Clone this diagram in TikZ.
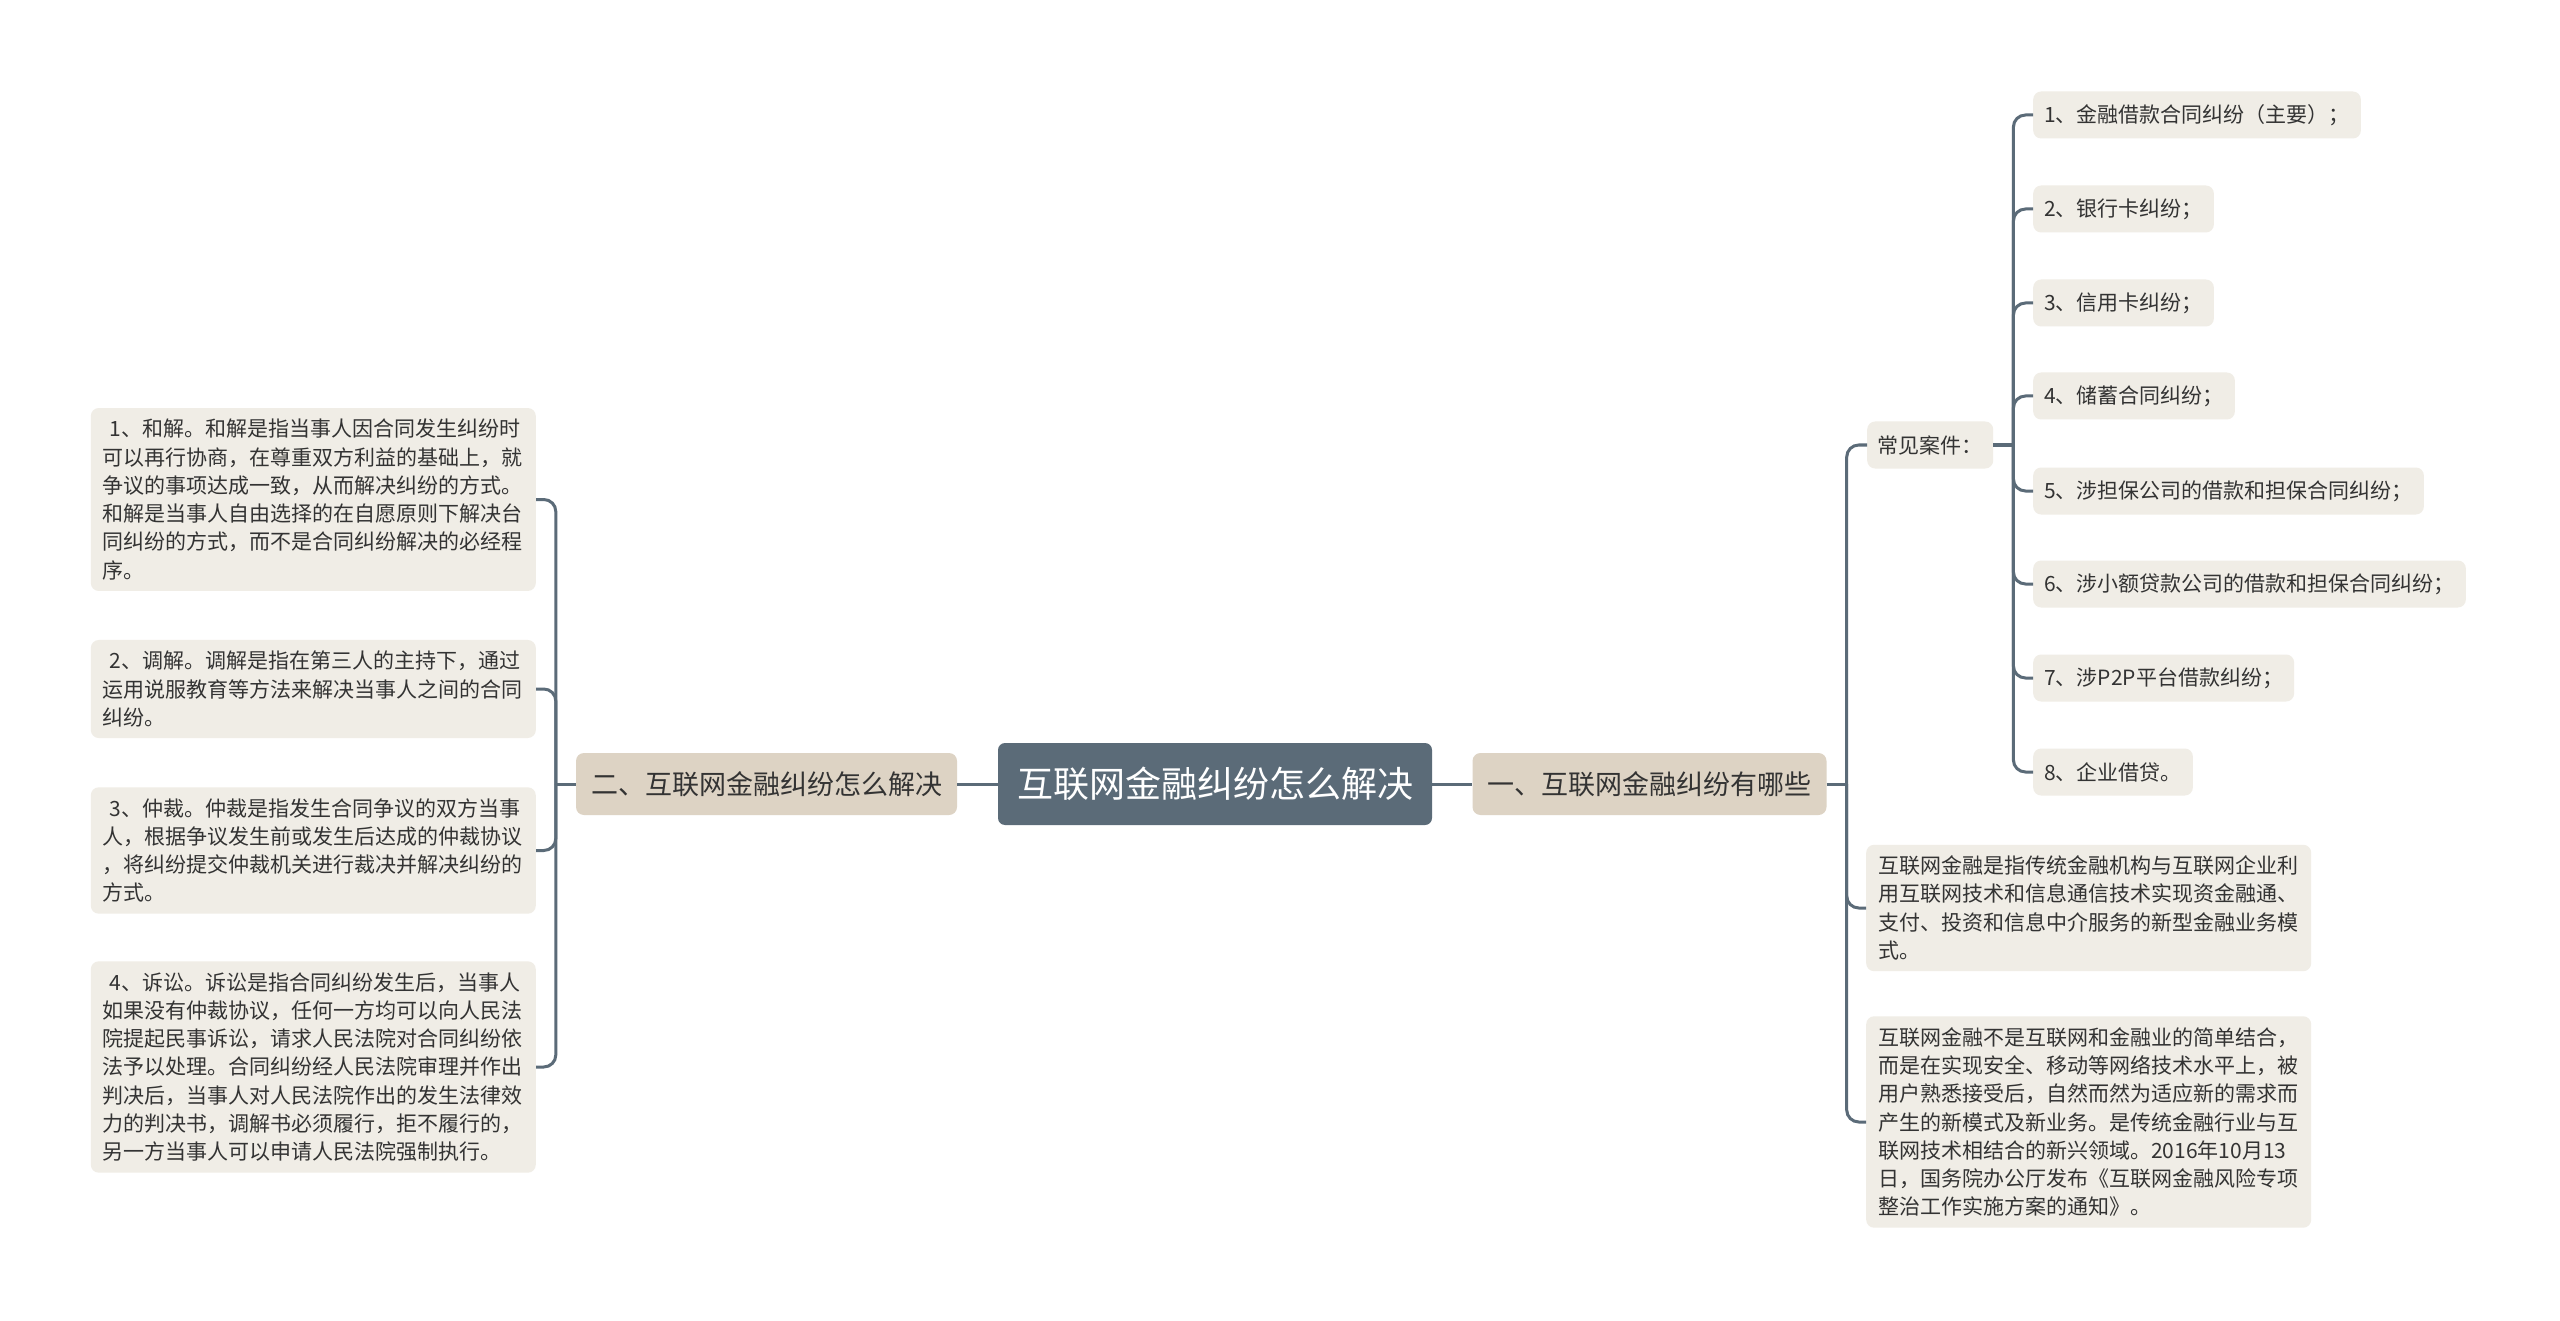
\documentclass[tikz,border=0pt]{standalone}
\usepackage{fontspec}
\setmainfont{Noto Sans CJK SC}
\usepackage{tikz}

\definecolor{slate}{HTML}{5B6B78}
\definecolor{tan}{HTML}{DDD3C4}
\definecolor{cream}{HTML}{F0EDE6}
\definecolor{ink}{HTML}{333333}

\begin{document}
\begin{tikzpicture}[x=1pt, y=-1pt,
    rootbox/.style={fill=slate, text=white, rounded corners=7pt, inner xsep=19pt,
      minimum height=82pt, font=\fontsize{36}{40}\selectfont},
    branchbox/.style={fill=tan, text=ink, rounded corners=8pt, inner xsep=15pt,
      minimum height=62pt, font=\fontsize{27}{32}\selectfont},
    leafbox/.style={fill=cream, text=ink, rounded corners=8pt, inner xsep=11pt,
      minimum height=47pt, font=\fontsize{21}{28.3}\selectfont},
    notebox/.style={fill=cream, text=ink, rounded corners=8pt, inner xsep=12pt,
      inner ysep=11pt, text width=421pt, align=left, font=\fontsize{21}{28.3}\selectfont},
    link/.style={draw=slate, line width=3pt, rounded corners=12pt}]
    \fill[white] (0,0) rectangle (2560,1321);
    \useasboundingbox (0,0) rectangle (2560,1321);

    % middle
    \node[rootbox] (root) at (1215,784) {互联网金融纠纷怎么解决};
    \node[branchbox] (ways) at (766.5,784) {二、互联网金融纠纷怎么解决};
    \node[branchbox] (kinds) at (1649.5,784) {一、互联网金融纠纷有哪些};
    \draw[link] (root.west) -- (ways.east);
    \draw[link] (root.east) -- (kinds.west);

    % left side
    \node[notebox, anchor=east] (heji) at (536,499.5) {~1、和解。和解是指当事人因合同发生纠纷时\\
      可以再行协商，在尊重双方利益的基础上，就\\
      争议的事项达成一致，从而解决纠纷的方式。\\
      和解是当事人自由选择的在自愿原则下解决台\\
      同纠纷的方式，而不是合同纠纷解决的必经程\\
      序。};
    \node[notebox, anchor=east] (tiaojie) at (536,689) {~2、调解。调解是指在第三人的主持下，通过\\
      运用说服教育等方法来解决当事人之间的合同\\
      纠纷。};
    \node[notebox, anchor=east] (zhongcai) at (536,850.5) {~3、仲裁。仲裁是指发生合同争议的双方当事\\
      人，根据争议发生前或发生后达成的仲裁协议\\
      ，将纠纷提交仲裁机关进行裁决并解决纠纷的\\
      方式。};
    \node[notebox, anchor=east] (susong) at (536,1067) {~4、诉讼。诉讼是指合同纠纷发生后，当事人\\
      如果没有仲裁协议，任何一方均可以向人民法\\
      院提起民事诉讼，请求人民法院对合同纠纷依\\
      法予以处理。合同纠纷经人民法院审理并作出\\
      判决后，当事人对人民法院作出的发生法律效\\
      力的判决书，调解书必须履行，拒不履行的，\\
      另一方当事人可以申请人民法院强制执行。};
    \draw[link] (ways.west) -- ++(-20,0);
    \draw[link] (ways.west) ++(-20,0) |- (heji.east);
    \draw[link] (ways.west) ++(-20,0) |- (tiaojie.east);
    \draw[link] (ways.west) ++(-20,0) |- (zhongcai.east);
    \draw[link] (ways.west) ++(-20,0) |- (susong.east);

    % right side
    \node[leafbox, inner xsep=10.5pt, anchor=west] (cases) at (1867,445) {常见案件：};
    \node[notebox, anchor=west] (def) at (1866,908) {互联网金融是指传统金融机构与互联网企业利\\
      用互联网技术和信息通信技术实现资金融通、\\
      支付、投资和信息中介服务的新型金融业务模\\
      式。};
    \node[notebox, anchor=west] (note) at (1866,1122) {互联网金融不是互联网和金融业的简单结合，\\
      而是在实现安全、移动等网络技术水平上，被\\
      用户熟悉接受后，自然而然为适应新的需求而\\
      产生的新模式及新业务。是传统金融行业与互\\
      联网技术相结合的新兴领域。2016年10月13\\
      日，国务院办公厅发布《互联网金融风险专项\\
      整治工作实施方案的通知》。};
    \draw[link] (kinds.east) -- ++(20,0);
    \draw[link] (kinds.east) ++(20,0) |- (cases.west);
    \draw[link] (kinds.east) ++(20,0) |- (def.west);
    \draw[link] (kinds.east) ++(20,0) |- (note.west);

    % common cases
    \node[leafbox, anchor=west] (c1) at (2033,115) {1、金融借款合同纠纷（主要）；};
    \node[leafbox, anchor=west] (c2) at (2033,209) {2、银行卡纠纷；};
    \node[leafbox, anchor=west] (c3) at (2033,303) {3、信用卡纠纷；};
    \node[leafbox, anchor=west] (c4) at (2033,396) {4、储蓄合同纠纷；};
    \node[leafbox, anchor=west] (c5) at (2033,491) {5、涉担保公司的借款和担保合同纠纷；};
    \node[leafbox, anchor=west] (c6) at (2033,584) {6、涉小额贷款公司的借款和担保合同纠纷；};
    \node[leafbox, anchor=west] (c7) at (2033,678) {7、涉P2P平台借款纠纷；};
    \node[leafbox, anchor=west] (c8) at (2033,772) {8、企业借贷。};
    \draw[link] (cases.east) -- ++(20,0);
    \draw[link] (cases.east) ++(20,0) |- (c1.west);
    \draw[link] (cases.east) ++(20,0) |- (c2.west);
    \draw[link] (cases.east) ++(20,0) |- (c3.west);
    \draw[link] (cases.east) ++(20,0) |- (c4.west);
    \draw[link] (cases.east) ++(20,0) |- (c5.west);
    \draw[link] (cases.east) ++(20,0) |- (c6.west);
    \draw[link] (cases.east) ++(20,0) |- (c7.west);
    \draw[link] (cases.east) ++(20,0) |- (c8.west);
  \end{tikzpicture}
\end{document}
